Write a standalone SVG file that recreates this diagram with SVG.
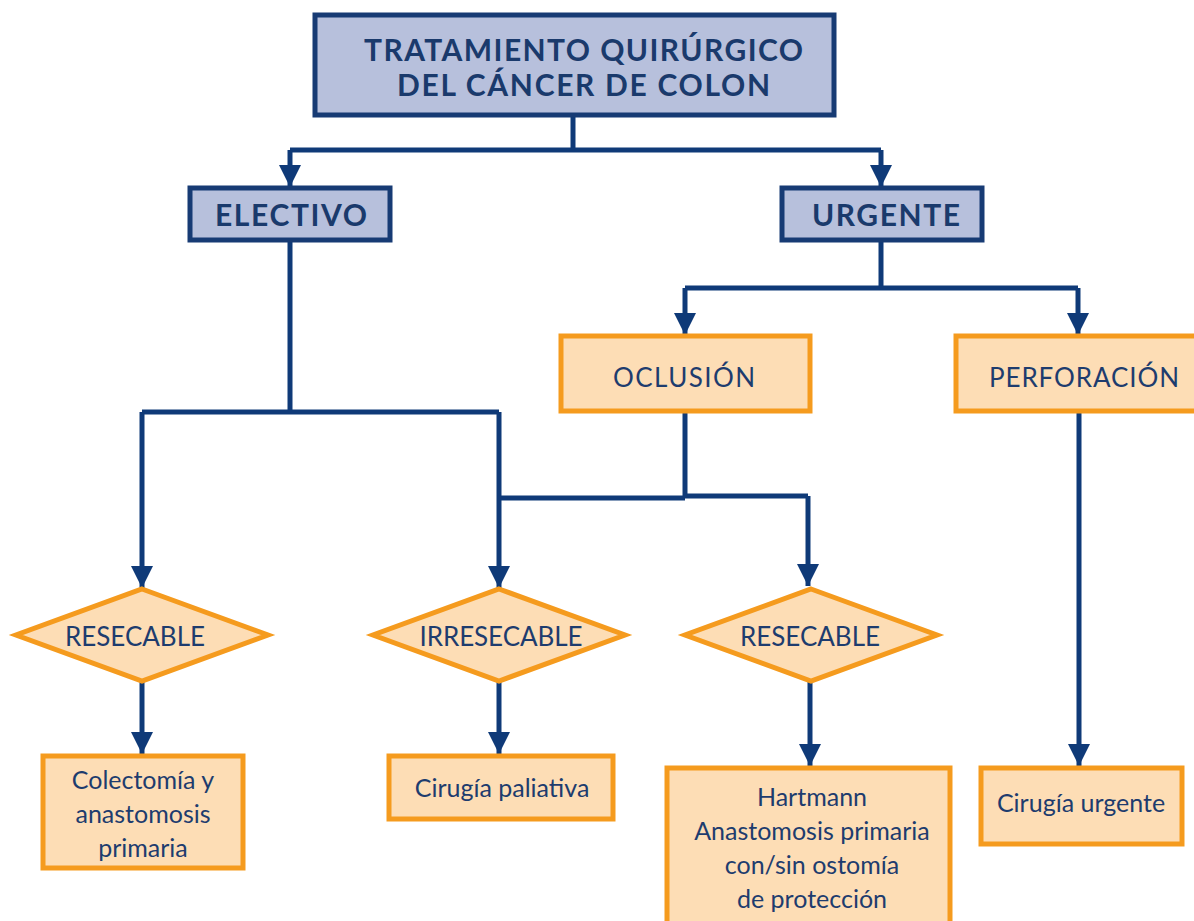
<svg xmlns="http://www.w3.org/2000/svg" width="1194" height="921" viewBox="0 0 1194 921">
<defs>
<style>
.bbox{fill:#B7C0DC;stroke:#173B74;stroke-width:5}
.obox{fill:#FDDDB5;stroke:#F59B1E;stroke-width:5}
.ttl{font-family:Lato,"Liberation Sans",sans-serif;font-weight:bold;fill:#1A3A6C;text-anchor:middle}
.lbl{font-family:Lato,"Liberation Sans",sans-serif;font-weight:normal;fill:#1E3C6E;text-anchor:middle;font-size:25px}
.cap{font-size:26px}
.con{fill:none;stroke:#0F3A78;stroke-width:5}
</style>
<marker id="ah" viewBox="0 0 10 10" refX="10" refY="5" markerWidth="4.4" markerHeight="4.4" markerUnits="strokeWidth" orient="auto">
<path d="M0,0 L10,5 L0,10 Z" fill="#0F3A78"/>
</marker>
</defs>
<rect width="1194" height="921" fill="#ffffff"/>
<g id="connectors">
<path class="con" d="M573,116 V150"/>
<path class="con" d="M290,150 H881"/>
<path class="con" d="M290,150 V187" marker-end="url(#ah)"/>
<path class="con" d="M881,150 V187" marker-end="url(#ah)"/>
<path class="con" d="M290,240 V412"/>
<path class="con" d="M142,412 H499"/>
<path class="con" d="M142,412 V588" marker-end="url(#ah)"/>
<path class="con" d="M499,412 V588" marker-end="url(#ah)"/>
<path class="con" d="M881,240 V288"/>
<path class="con" d="M685,288 H1078"/>
<path class="con" d="M685,288 V335" marker-end="url(#ah)"/>
<path class="con" d="M1078,288 V335" marker-end="url(#ah)"/>
<path class="con" d="M685,411 V497"/>
<path class="con" d="M499,498 H685"/>
<path class="con" d="M685,496 H808"/>
<path class="con" d="M808,496 V586" marker-end="url(#ah)"/>
<path class="con" d="M142,682 V754" marker-end="url(#ah)"/>
<path class="con" d="M499,682 V754" marker-end="url(#ah)"/>
<path class="con" d="M810,682 V766" marker-end="url(#ah)"/>
<path class="con" d="M1079,411 V766" marker-end="url(#ah)"/>
</g>
<g id="n-title">
<rect class="bbox" x="315" y="15" width="519" height="100"/>
<text class="ttl" font-size="30" x="583.5" y="61" textLength="439" lengthAdjust="spacing">TRATAMIENTO QUIRÚRGICO</text>
<text class="ttl" font-size="30" x="583.5" y="96" textLength="373" lengthAdjust="spacing">DEL CÁNCER DE COLON</text>
</g>
<g id="n-electivo">
<rect class="bbox" x="190" y="188" width="200" height="52"/>
<text class="ttl" font-size="30" x="291" y="226" textLength="152" lengthAdjust="spacing">ELECTIVO</text>
</g>
<g id="n-urgente">
<rect class="bbox" x="782" y="188" width="200" height="52"/>
<text class="ttl" font-size="30" x="886" y="226" textLength="148" lengthAdjust="spacing">URGENTE</text>
</g>
<g id="n-oclusion">
<rect class="obox" x="561" y="336" width="249" height="75"/>
<text class="lbl cap" x="684" y="387" textLength="142" lengthAdjust="spacing">OCLUSIÓN</text>
</g>
<g id="n-perforacion">
<rect class="obox" x="956" y="336" width="244" height="75"/>
<text class="lbl cap" x="1084" y="387" textLength="190" lengthAdjust="spacing">PERFORACIÓN</text>
</g>
<g id="n-resecable1">
<polygon class="obox" points="142,589 268,635 142,681 16,635"/>
<text class="lbl cap" x="135" y="646" textLength="140" lengthAdjust="spacing">RESECABLE</text>
</g>
<g id="n-irresecable">
<polygon class="obox" points="499,589 625,635 499,681 373,635"/>
<text class="lbl cap" x="501" y="646" textLength="163" lengthAdjust="spacing">IRRESECABLE</text>
</g>
<g id="n-resecable2">
<polygon class="obox" points="811,589 937,635 811,681 685,635"/>
<text class="lbl cap" x="810" y="646" textLength="140" lengthAdjust="spacing">RESECABLE</text>
</g>
<g id="n-colectomia">
<rect class="obox" x="43" y="756" width="200" height="112"/>
<text class="lbl" x="143" y="789">Colectomía y</text>
<text class="lbl" x="143" y="823">anastomosis</text>
<text class="lbl" x="143" y="857">primaria</text>
</g>
<g id="n-paliativa">
<rect class="obox" x="389" y="756" width="224" height="63"/>
<text class="lbl" x="502" y="797">Cirugía paliativa</text>
</g>
<g id="n-hartmann">
<rect class="obox" x="667" y="768" width="283" height="160"/>
<text class="lbl" x="812" y="806">Hartmann</text>
<text class="lbl" x="812" y="840">Anastomosis primaria</text>
<text class="lbl" x="812" y="874">con/sin ostomía</text>
<text class="lbl" x="812" y="908">de protección</text>
</g>
<g id="n-urgente-cir">
<rect class="obox" x="981" y="768" width="201" height="76"/>
<text class="lbl" x="1081" y="812">Cirugía urgente</text>
</g>
</svg>
